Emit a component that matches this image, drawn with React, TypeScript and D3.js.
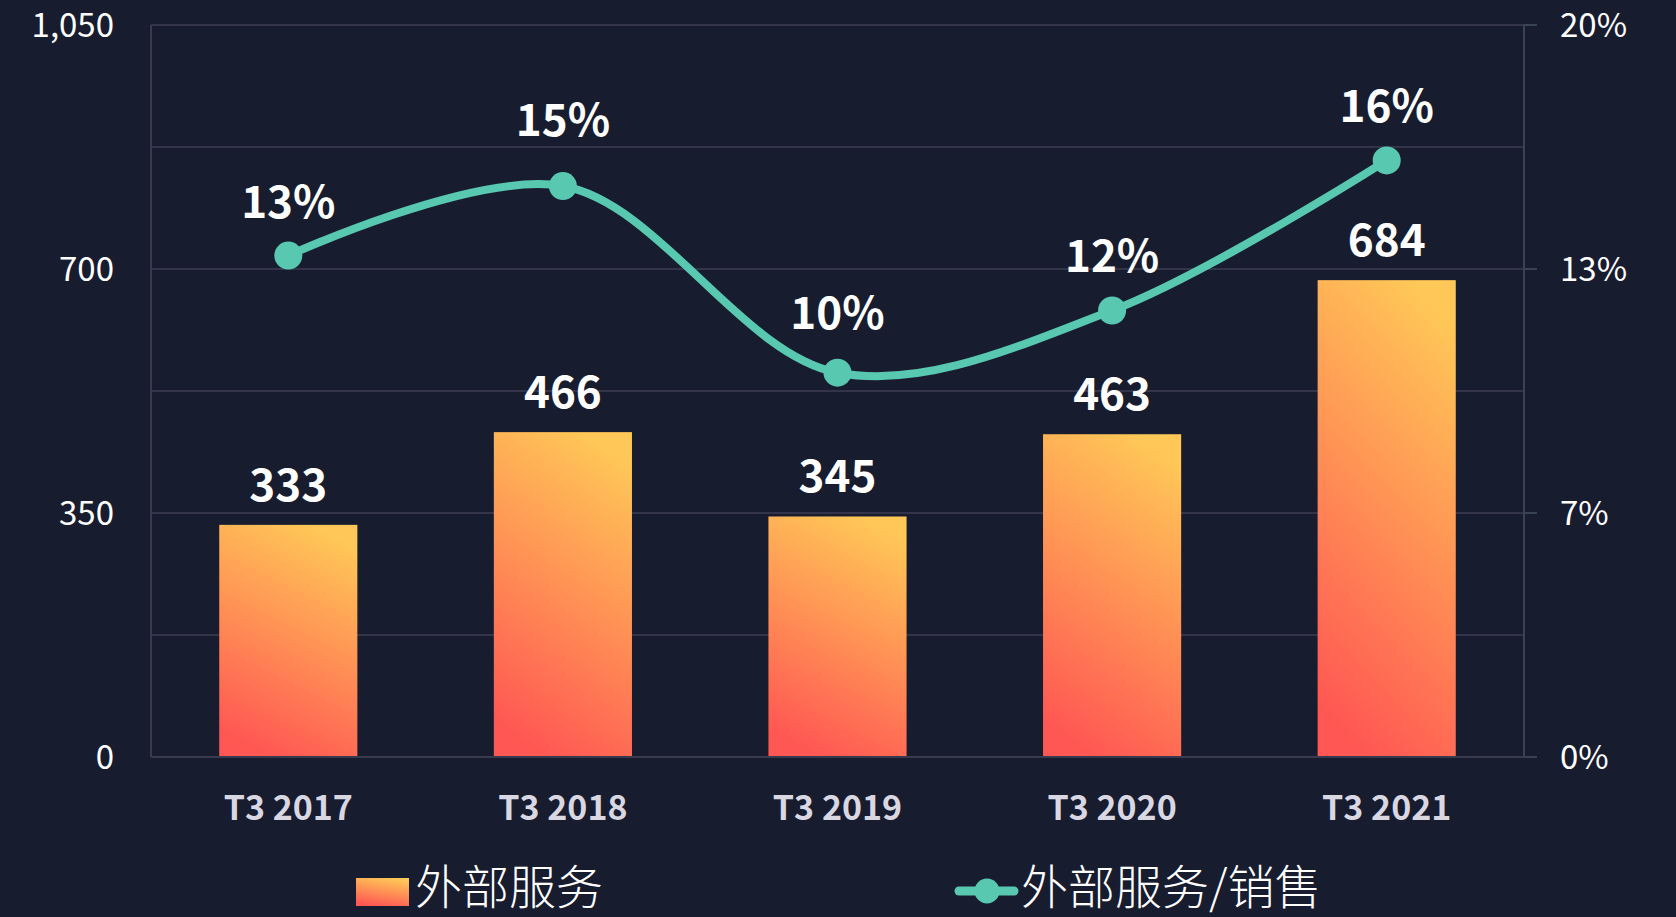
import React from "react";
import * as d3 from "d3";

const categories = ["T3 2017", "T3 2018", "T3 2019", "T3 2020", "T3 2021"];
const serviceValues = [333, 466, 345, 463, 684];
const ratioValues = [13.7, 15.6, 10.5, 12.2, 16.3];
const ratioLabels = ["13%", "15%", "10%", "12%", "16%"];
const leftTicks = [0, 350, 700, 1050];
const rightTickLabels = ["0%", "7%", "13%", "20%"];
const legendBar = "外部服务";
const legendLine = "外部服务/销售";

const W = 1676;
const H = 917;
const M = { left: 151, right: 152, top: 25, bottom: 160 };
const FONT = "'Noto Sans CJK SC', 'Noto Sans', sans-serif";

export default function App() {
  const x = d3
    .scaleBand<string>()
    .domain(categories)
    .range([M.left, W - M.right])
    .paddingInner(0)
    .paddingOuter(0);
  const y = d3.scaleLinear().domain([0, 1050]).range([H - M.bottom, M.top]);
  const y2 = d3.scaleLinear().domain([0, 20]).range(y.range());
  const gridVals = d3.range(0, 1051, 175);
  const bw = x.bandwidth() * 0.503;
  const cx = (c: string) => (x(c) as number) + x.bandwidth() / 2;

  const line = d3
    .line<number>()
    .x((_, i) => cx(categories[i]))
    .y((d) => y2(d))
    .curve(d3.curveCatmullRom.alpha(0.5));

  // extra lift for labels at local extremes of the curve (label avoids the line)
  const lift = (i: number) => {
    const v = ratioValues[i];
    const p = ratioValues[i - 1];
    const n = ratioValues[i + 1];
    if (p !== undefined && n !== undefined) {
      if (v > p && v > n) return 12;
      if (v < p && v < n) return 6;
    }
    return 0;
  };

  const x0 = M.left;
  const x1 = W - M.right;
  const y0 = y(0);

  return (
    <svg
      width={W}
      height={H}
      style={{ position: "absolute", left: 0, top: 0, background: "#181c2f" }}
      fontFamily={FONT}
    >
      <defs>
        <linearGradient id="barGrad" x1="0.35" y1="1" x2="0.65" y2="0">
          <stop offset="0" stopColor="#ff5753" />
          <stop offset="1" stopColor="#ffc757" />
        </linearGradient>
      </defs>
      <rect x={0} y={0} width={W} height={H} fill="#181c2f" />
      {gridVals.map((v) => (
        <line key={v} x1={x0} x2={x1} y1={y(v)} y2={y(v)} stroke="#33344a" strokeWidth={2} />
      ))}
      <line x1={x0} x2={x0} y1={M.top} y2={y0} stroke="#3a3a4e" strokeWidth={2} />
      <line x1={x1} x2={x1} y1={M.top} y2={y0} stroke="#384452" strokeWidth={2} />
      {leftTicks.map((v, i) => (
        <g key={v}>
          <line x1={x1} x2={x1 + 13} y1={y(v)} y2={y(v)} stroke="#384452" strokeWidth={2} />
          <text x={114} y={y(v) + 12} textAnchor="end" fontSize={33} fill="#ffffff">
            {d3.format(",")(v)}
          </text>
          <text x={1560} y={y(v) + 12} textAnchor="start" fontSize={33} fill="#ffffff">
            {rightTickLabels[i]}
          </text>
        </g>
      ))}
      {serviceValues.map((v, i) => {
        const c = categories[i];
        return (
          <g key={c}>
            <rect x={cx(c) - bw / 2} y={y(v)} width={bw} height={y0 - 1 - y(v)} fill="url(#barGrad)" />
            <text x={cx(c)} y={y(v) - 24} textAnchor="middle" fontSize={44} fontWeight={700} fill="#ffffff">
              {v}
            </text>
          </g>
        );
      })}
      <line x1={x0} x2={x1} y1={y0} y2={y0} stroke="#3a3a4e" strokeWidth={2} />
      {categories.map((c) => (
        <text key={c} x={cx(c)} y={820} textAnchor="middle" fontSize={34} fontWeight={700} fill="#d9d8e2">
          {c}
        </text>
      ))}
      <path d={line(ratioValues) || ""} fill="none" stroke="#58c8b0" strokeWidth={8} strokeLinecap="round" />
      {ratioValues.map((v, i) => (
        <g key={i}>
          <circle cx={cx(categories[i])} cy={y2(v)} r={14} fill="#58c8b0" />
          <text
            x={cx(categories[i])}
            y={y2(v) - 38 - lift(i)}
            textAnchor="middle"
            fontSize={44}
            fontWeight={700}
            fill="#ffffff"
          >
            {ratioLabels[i]}
          </text>
        </g>
      ))}
      <g>
        <rect x={356} y={878} width={53} height={28} fill="url(#barGrad)" />
        <text x={415} y={904} fontSize={47} fill="#ffffff" fontWeight={300}>
          {legendBar}
        </text>
        <line x1={959} x2={1014} y1={891} y2={891} stroke="#58c8b0" strokeWidth={9} strokeLinecap="round" />
        <circle cx={987} cy={891} r={12.5} fill="#58c8b0" />
        <text x={1021} y={904} fontSize={47} fill="#ffffff" fontWeight={300}>
          {legendLine}
        </text>
      </g>
    </svg>
  );
}
